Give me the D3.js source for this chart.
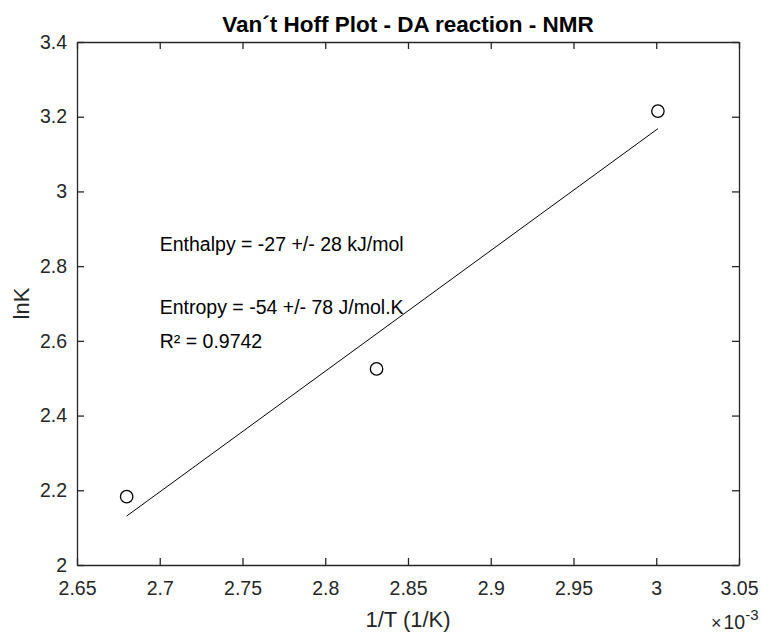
<!DOCTYPE html>
<html>
<head>
<meta charset="utf-8">
<script src="https://cdn.jsdelivr.net/npm/d3@7"></script>
<style>
  body { margin: 0; background: #fff; }
  svg { display: block; font-family: "Liberation Sans", Arial, sans-serif; }
</style>
</head>
<body>
<svg id="chart" width="762" height="632"></svg>
<script>
// measured points (1/T in units of 1e-3 K^-1)
let invT = [2.68, 2.831, 3.001];
let lnK = [2.183, 2.525, 3.215];

// fitted line end points
let fitX = [2.68, 3.001];
let fitY = [2.131, 3.168];

let xTicks = [2.65, 2.7, 2.75, 2.8, 2.85, 2.9, 2.95, 3, 3.05];
let yTicks = [2, 2.2, 2.4, 2.6, 2.8, 3, 3.2, 3.4];

let notes = ["Enthalpy = -27 +/- 28 kJ/mol", "Entropy = -54 +/- 78 J/mol.K", "R\u00b2 = 0.9742"];
let noteX = [2.7, 2.7, 2.7];
let noteY = [2.86, 2.69, 2.6];

let svg = d3.select("#chart"),
    margin = {top: 42, right: 23, bottom: 67, left: 77},
    width = +svg.attr("width") - margin.left - margin.right,
    height = +svg.attr("height") - margin.top - margin.bottom,
    g = svg.append("g").attr("transform", "translate(" + margin.left + "," + margin.top + ")");

let ink = "#262626";

let scaleX = d3.scaleLinear().domain([2.65, 3.05]).range([0, width]);
let scaleY = d3.scaleLinear().domain([2, 3.4]).range([height, 0]);

let fmt = d => String(+d.toFixed(2));

// axes with inward ticks on all four sides
let axB = g.append("g").attr("transform", "translate(0," + height + ")")
    .call(d3.axisBottom(scaleX).tickValues(xTicks).tickFormat(fmt).tickSizeInner(-7).tickSizeOuter(0).tickPadding(16));
let axT = g.append("g")
    .call(d3.axisTop(scaleX).tickValues(xTicks).tickFormat("").tickSizeInner(-7).tickSizeOuter(0));
let axL = g.append("g")
    .call(d3.axisLeft(scaleY).tickValues(yTicks).tickFormat(fmt).tickSizeInner(-7).tickSizeOuter(0).tickPadding(10));
let axR = g.append("g").attr("transform", "translate(" + width + ",0)")
    .call(d3.axisRight(scaleY).tickValues(yTicks).tickFormat("").tickSizeInner(-7).tickSizeOuter(0));

[axB, axT, axL, axR].forEach(a => {
    a.select(".domain").attr("stroke", ink).attr("stroke-width", 1.3);
    a.selectAll(".tick line").attr("stroke", ink).attr("stroke-width", 1.3);
    a.selectAll(".tick text").attr("fill", ink).attr("font-size", 19.5).attr("font-family", "Liberation Sans, Arial, sans-serif");
});

// fit line
g.append("line")
    .attr("x1", scaleX(fitX[0])).attr("y1", scaleY(fitY[0]))
    .attr("x2", scaleX(fitX[1])).attr("y2", scaleY(fitY[1]))
    .attr("stroke", "#000").attr("stroke-width", 1);

// data points
g.selectAll("circle.pt")
    .data(invT)
    .enter().append("circle")
    .attr("class", "pt")
    .attr("cx", d => scaleX(d))
    .attr("cy", (d, i) => scaleY(lnK[i]))
    .attr("r", 6.2)
    .attr("fill", "none")
    .attr("stroke", "#000")
    .attr("stroke-width", 1.3);

// annotations
g.selectAll("text.note")
    .data(notes)
    .enter().append("text")
    .attr("class", "note")
    .attr("x", (d, i) => scaleX(noteX[i]))
    .attr("y", (d, i) => scaleY(noteY[i]))
    .attr("dy", "0.35em")
    .attr("font-size", 19.5)
    .attr("fill", "#000")
    .text(d => d);

// title
svg.append("text")
    .attr("x", margin.left + width / 2)
    .attr("y", 32)
    .attr("text-anchor", "middle")
    .attr("font-size", 22.5)
    .attr("font-weight", "bold")
    .attr("fill", "#000")
    .text("Van\u00b4t Hoff Plot - DA reaction - NMR");

// axis labels
svg.append("text")
    .attr("x", margin.left + width / 2)
    .attr("y", 627)
    .attr("text-anchor", "middle")
    .attr("font-size", 22)
    .attr("fill", ink)
    .text("1/T (1/K)");

svg.append("text")
    .attr("transform", "translate(29," + (margin.top + height / 2) + ") rotate(-90)")
    .attr("text-anchor", "middle")
    .attr("font-size", 22)
    .attr("fill", ink)
    .text("lnK");

// exponent label
let ex = svg.append("text")
    .attr("x", 711)
    .attr("y", 629)
    .attr("font-size", 19.5)
    .attr("fill", ink);
ex.append("tspan").text("\u00d7").attr("font-size", 18).attr("font-weight", 300);
ex.append("tspan").text("10").attr("dx", 2);
ex.append("tspan").text("-3").attr("font-size", 15).attr("dy", -9);
</script>
</body>
</html>
